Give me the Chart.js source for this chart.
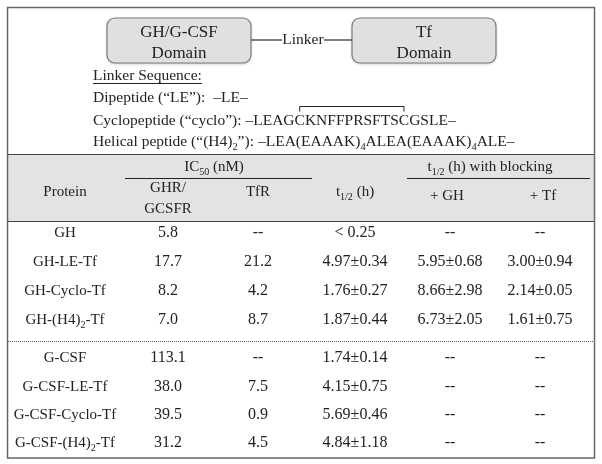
<!DOCTYPE html>
<html>
<head>
<meta charset="utf-8">
<script src="https://cdn.jsdelivr.net/npm/chart.js@4"></script>
<style>
  body { margin: 0; background: #fff; }
  #wrap { width: 602px; height: 464px; }
</style>
</head>
<body>
<div id="wrap"><canvas id="table" width="602" height="464"></canvas></div>
<script>
// table content
var proteins = ['GH', 'GH-LE-Tf', 'GH-Cyclo-Tf', 'GH-(H4)_{2}-Tf',
  'G-CSF', 'G-CSF-LE-Tf', 'G-CSF-Cyclo-Tf', 'G-CSF-(H4)_{2}-Tf'];
var ic50Receptor = ['5.8', '17.7', '8.2', '7.0', '113.1', '38.0', '39.5', '31.2'];
var ic50TfR = ['--', '21.2', '4.2', '8.7', '--', '7.5', '0.9', '4.5'];
var halfLife = ['< 0.25', '4.97±0.34', '1.76±0.27', '1.87±0.44',
  '1.74±0.14', '4.15±0.75', '5.69±0.46', '4.84±1.18'];
var blockGH = ['--', '5.95±0.68', '8.66±2.98', '6.73±2.05', '--', '--', '--', '--'];
var blockTf = ['--', '3.00±0.94', '2.14±0.05', '1.61±0.75', '--', '--', '--', '--'];

var domainLeft = ['GH/G-CSF', 'Domain'];
var domainRight = ['Tf', 'Domain'];
var linkerNames = ['Dipeptide (“LE”):', 'Cyclopeptide (“cyclo”):', 'Helical peptide (“(H4)_{2}”):'];
var linkerSeqs = ['–LE–', '–LEAGCKNFFPRSFTSCGSLE–', '–LEA(EAAAK)_{4}ALEA(EAAAK)_{4}ALE–'];

var columns = [proteins, ic50Receptor, ic50TfR, halfLife, blockGH, blockTf];

// layout
var FAMILY = '"Liberation Serif", "Times New Roman", serif';
var INK = '#222';
var colX = [65, 168, 258, 355, 450, 540];
var rowY = [232, 261, 290, 319, 357, 386, 414, 442];

function font(size) { return size + 'px ' + FAMILY; }

function parts(str) {
  var out = [];
  var bits = str.split(/_\{([^}]*)\}/);
  for (var i = 0; i < bits.length; i++) {
    if (bits[i] !== '') out.push({ t: bits[i], sub: i % 2 === 1 });
  }
  return out;
}

function richWidth(ctx, str, size) {
  var w = 0;
  parts(str).forEach(function(p) {
    ctx.font = font(p.sub ? size * 0.67 : size);
    w += ctx.measureText(p.t).width;
  });
  return w;
}

// draws text with _{sub} markup, y is the vertical middle
function richText(ctx, str, x, y, align, size) {
  size = size || 15;
  var w = richWidth(ctx, str, size);
  var sx = align === 'left' ? x : x - w / 2;
  ctx.textBaseline = 'alphabetic';
  ctx.textAlign = 'left';
  ctx.fillStyle = INK;
  var base = y + size / 3;
  parts(str).forEach(function(p) {
    ctx.font = font(p.sub ? size * 0.67 : size);
    ctx.fillText(p.t, sx, p.sub ? base + size * 0.27 : base);
    sx += ctx.measureText(p.t).width;
  });
  return w;
}

function roundBox(ctx, x, y, w, h, r) {
  ctx.beginPath();
  ctx.moveTo(x + r, y);
  ctx.arcTo(x + w, y, x + w, y + h, r);
  ctx.arcTo(x + w, y + h, x, y + h, r);
  ctx.arcTo(x, y + h, x, y, r);
  ctx.arcTo(x, y, x + w, y, r);
  ctx.closePath();
}

var tablePlugin = {
  id: 'tableDraw',
  afterDraw: function(chart) {
    var ctx = chart.ctx;
    var sx = chart.scales.x, sy = chart.scales.y;
    var X = function(v) { return sx.getPixelForValue(v); };
    var Y = function(v) { return sy.getPixelForValue(v); };
    ctx.save();

    // header band
    ctx.fillStyle = '#e3e3e3';
    ctx.fillRect(X(8), Y(154), X(594) - X(8), Y(221) - Y(154));
    ctx.strokeStyle = '#444';
    ctx.lineWidth = 1;
    [154.5, 221.5].forEach(function(v) {
      ctx.beginPath(); ctx.moveTo(X(8), Y(v)); ctx.lineTo(X(594), Y(v)); ctx.stroke();
    });
    ctx.strokeStyle = '#222';
    ctx.beginPath(); ctx.moveTo(X(125), Y(178.5)); ctx.lineTo(X(312), Y(178.5)); ctx.stroke();
    ctx.beginPath(); ctx.moveTo(X(407), Y(178.5)); ctx.lineTo(X(590), Y(178.5)); ctx.stroke();

    // dotted group separator
    ctx.strokeStyle = '#555';
    ctx.setLineDash([1, 1]);
    ctx.beginPath(); ctx.moveTo(X(8), Y(341.5)); ctx.lineTo(X(594), Y(341.5)); ctx.stroke();
    ctx.setLineDash([]);

    // outer frame
    ctx.strokeStyle = '#666';
    ctx.lineWidth = 1.5;
    ctx.strokeRect(X(7.5), Y(7.5), X(594.5) - X(7.5), Y(458) - Y(7.5));

    // domain diagram
    ctx.lineWidth = 1.2;
    [[107, domainLeft], [352, domainRight]].forEach(function(b) {
      ctx.save();
      ctx.shadowColor = 'rgba(0,0,0,0.25)';
      ctx.shadowBlur = 3;
      ctx.shadowOffsetY = 1;
      roundBox(ctx, X(b[0]), Y(18), 144, 45, 8);
      ctx.fillStyle = '#e0e0e0';
      ctx.fill();
      ctx.restore();
      roundBox(ctx, X(b[0]), Y(18), 144, 45, 8);
      ctx.strokeStyle = '#7a7a7a';
      ctx.stroke();
      richText(ctx, b[1][0], X(b[0] + 72), Y(31), 'center', 17);
      richText(ctx, b[1][1], X(b[0] + 72), Y(52), 'center', 17);
    });
    ctx.strokeStyle = '#555';
    ctx.lineWidth = 1.5;
    ctx.beginPath(); ctx.moveTo(X(251), Y(40)); ctx.lineTo(X(282), Y(40)); ctx.stroke();
    ctx.beginPath(); ctx.moveTo(X(324), Y(40)); ctx.lineTo(X(352), Y(40)); ctx.stroke();
    richText(ctx, 'Linker', X(303), Y(39), 'center', 15.5);

    // linker sequences
    var lw = richText(ctx, 'Linker Sequence:', X(93), Y(75), 'left', 15.5);
    ctx.strokeStyle = INK;
    ctx.lineWidth = 1;
    ctx.beginPath(); ctx.moveTo(X(93), Y(83.5)); ctx.lineTo(X(93) + lw, Y(83.5)); ctx.stroke();
    var seqRows = [97, 120, 141];
    linkerNames.forEach(function(name, i) {
      var w = richText(ctx, name, X(93), Y(seqRows[i]), 'left', 15.5);
      var gap = i === 0 ? 8 : 4;
      var sx0 = X(93) + w + gap;
      richText(ctx, linkerSeqs[i], sx0, Y(seqRows[i]), 'left', 15.5);
      if (i === 1) {
        // disulfide bracket between the two cysteines
        var seq = linkerSeqs[i];
        var c1 = seq.indexOf('C'), c2 = seq.lastIndexOf('C');
        ctx.font = font(15.5);
        var cw = ctx.measureText('C').width;
        var x1 = sx0 + ctx.measureText(seq.slice(0, c1)).width + cw / 2;
        var x2 = sx0 + ctx.measureText(seq.slice(0, c2)).width + cw / 2;
        var yb = Y(seqRows[i]) - 13.5;
        ctx.beginPath();
        ctx.moveTo(x1, yb + 5); ctx.lineTo(x1, yb); ctx.lineTo(x2, yb); ctx.lineTo(x2, yb + 5);
        ctx.stroke();
      }
    });

    // table header
    richText(ctx, 'IC_{50} (nM)', X(214), Y(166), 'center');
    richText(ctx, 't_{1/2} (h) with blocking', X(490), Y(166), 'center');
    richText(ctx, 'Protein', X(colX[0]), Y(191), 'center');
    richText(ctx, 'GHR/', X(colX[1]), Y(187), 'center');
    richText(ctx, 'GCSFR', X(colX[1]), Y(208), 'center');
    richText(ctx, 'TfR', X(colX[2]), Y(191), 'center');
    richText(ctx, 't_{1/2} (h)', X(colX[3]), Y(191), 'center');
    richText(ctx, '+ GH', X(colX[4] - 3), Y(195), 'center');
    richText(ctx, '+ Tf', X(colX[5] + 3), Y(195), 'center');

    // table body
    columns.forEach(function(col, c) {
      col.forEach(function(val, r) {
        richText(ctx, val, X(colX[c]), Y(rowY[r]), 'center', c === 0 ? 15 : 16);
      });
    });

    ctx.restore();
  }
};

var chart = new Chart(document.getElementById('table').getContext('2d'), {
  type: 'scatter',
  data: { datasets: [{ data: [], pointRadius: 0 }] },
  plugins: [tablePlugin],
  options: {
    responsive: false,
    animation: false,
    layout: { padding: 0 },
    plugins: { legend: { display: false }, tooltip: { enabled: false } },
    scales: {
      x: { type: 'linear', min: 0, max: 602, display: false },
      y: { type: 'linear', min: 0, max: 464, reverse: true, display: false }
    }
  }
});
</script>
</body>
</html>
